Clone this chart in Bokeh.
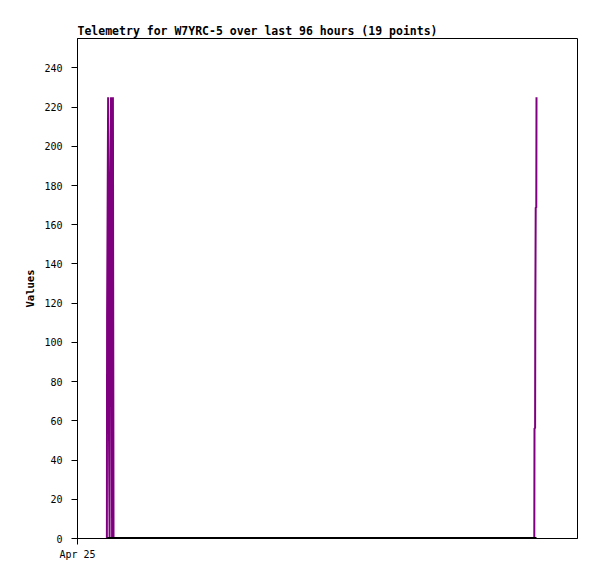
from bokeh.plotting import figure
from bokeh.models import FixedTicker, Range1d, ColumnDataSource
from bokeh.embed import file_html
from bokeh.resources import INLINE

# hours since Apr 25 00:00
hours = [1.41, 1.42, 1.47, 1.51, 1.54, 1.56, 1.61, 1.66, 1.70, 1.73,
         21.926, 21.936, 21.965, 21.974, 21.994, 22.022, 22.032]
values = [0, 112.5, 225, 56.25, 0, 168.75, 225, 0, 225, 0,
          0, 56.25, 56.25, 112.5, 168.75, 168.75, 225]
zeros = [0] * len(hours)
y_ticks = [0, 20, 40, 60, 80, 100, 120, 140, 160, 180, 200, 220, 240]
x_ticks = [0]
x_labels = {0: "Apr 25"}

src = ColumnDataSource(dict(t=hours, v=values, z=zeros))

p = figure(width=589, height=571, output_backend="svg", toolbar_location=None,
           x_range=Range1d(0, 24), y_range=Range1d(0, 255),
           min_border_left=77, min_border_right=12, min_border_top=38,
           min_border_bottom=33,
           title="Telemetry for W7YRC-5 over last 96 hours (19 points)")

p.title.text_font = "DejaVu Sans Mono"
p.title.text_font_size = "11.5px"
p.title.text_font_style = "bold"
p.title.text_color = "black"
p.title.align = "left"
p.title.offset = 0
p.title.standoff = 1

p.xgrid.visible = False
p.ygrid.visible = False
p.outline_line_color = "black"
p.outline_line_alpha = 1
p.outline_line_width = 1
p.background_fill_color = "white"
p.border_fill_color = "white"

p.line("t", "v", source=src, line_color="#7f007f", line_width=2)
p.line("t", "z", source=src, line_color="black", line_width=3)

for ax in (p.xaxis[0], p.yaxis[0]):
    ax.axis_line_color = "black"
    ax.major_tick_line_color = "black"
    ax.minor_tick_line_color = None
    ax.major_tick_in = 0
    ax.major_tick_out = 6
    ax.major_label_text_font = "DejaVu Sans Mono"
    ax.major_label_text_font_size = "10px"
    ax.major_label_text_color = "black"

p.yaxis.ticker = FixedTicker(ticks=y_ticks)
p.yaxis.major_label_standoff = 9
p.yaxis.axis_label = "Values"
p.yaxis.axis_label_text_font = "DejaVu Sans Mono"
p.yaxis.axis_label_text_font_size = "10.5px"
p.yaxis.axis_label_text_font_style = "bold"
p.yaxis.axis_label_text_color = "black"
p.yaxis.axis_label_standoff = 5

p.xaxis.ticker = FixedTicker(ticks=x_ticks)
p.xaxis.major_label_overrides = x_labels
p.xaxis.major_label_standoff = 4

open("out.html", "w").write(file_html(p, INLINE))
